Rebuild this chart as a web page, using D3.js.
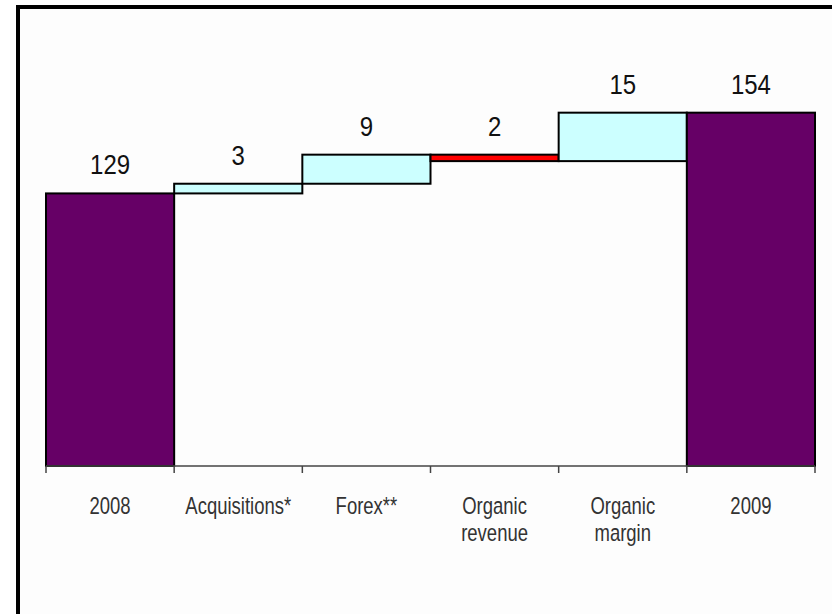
<!DOCTYPE html>
<html>
<head>
<meta charset="utf-8">
<script src="https://cdn.jsdelivr.net/npm/d3@7"></script>
<style>
  html, body { margin: 0; padding: 0; background: #ffffff; }
  svg { display: block; }
  text { font-family: "Liberation Sans", Arial, sans-serif; }
</style>
</head>
<body>
<svg id="chart" width="832" height="614"></svg>
<script>
// Bridge from 2008 to 2009: opening total, the movements, closing total
const categories = ["2008", "Acquisitions*", "Forex**", "Organic revenue", "Organic margin", "2009"];
const values = [129, 3, 9, -2, 15, 154];
const kinds = ["total", "step", "step", "step", "step", "total"];
const valueLabels = ["129", "3", "9", "2", "15", "154"];

const colors = { total: "#660066", up: "#ccffff", down: "#ff0000" };

const svg = d3.select("#chart");
const W = 832, H = 614;

svg.append("rect").attr("x", 0).attr("y", 0).attr("width", W).attr("height", H).attr("fill", "#ffffff");

// Frame (runs off the right and bottom edges)
svg.append("rect")
  .attr("x", 18).attr("y", 7)
  .attr("width", 900).attr("height", 800)
  .attr("fill", "#fdfdfd")
  .attr("stroke", "#000").attr("stroke-width", 4);

const x = d3.scaleBand().domain(categories).range([46, 815]).padding(0);
const y = d3.scaleLinear().domain([44.6, 170]).range([466, 61]);

// Build the floating segments from the running total
let running = 0;
const segs = categories.map((c, i) => {
  let lo, hi, fill;
  if (kinds[i] === "total") {
    running = values[i];
    lo = y.domain()[0]; hi = values[i]; fill = colors.total;
  } else {
    const start = running;
    running += values[i];
    lo = Math.min(start, running); hi = Math.max(start, running);
    fill = values[i] >= 0 ? colors.up : colors.down;
  }
  return { c, lo, hi, fill, label: valueLabels[i] };
});

const g = svg.append("g");

g.selectAll("rect.bar")
  .data(segs)
  .join("rect")
  .attr("class", "bar")
  .attr("x", d => x(d.c))
  .attr("width", x.bandwidth())
  .attr("y", d => y(d.hi))
  .attr("height", d => y(d.lo) - y(d.hi))
  .attr("fill", d => d.fill)
  .attr("stroke", "#000")
  .attr("stroke-width", 2);

// Category axis with ticks on the band boundaries
const axisY = y(y.domain()[0]);
g.append("line")
  .attr("x1", x.range()[0]).attr("x2", x.range()[1])
  .attr("y1", axisY).attr("y2", axisY)
  .attr("stroke", "#444").attr("stroke-width", 1.5);

const bounds = categories.map(c => x(c)).concat([x.range()[1]]);
g.selectAll("line.tick")
  .data(bounds)
  .join("line")
  .attr("class", "tick")
  .attr("x1", d => d).attr("x2", d => d)
  .attr("y1", axisY).attr("y2", axisY + 7)
  .attr("stroke", "#444").attr("stroke-width", 1.5);

// Category labels (two lines where the name has a space)
const cat = g.selectAll("g.cat")
  .data(categories)
  .join("g")
  .attr("class", "cat")
  .attr("transform", d => `translate(${x(d) + x.bandwidth() / 2},${axisY + 48}) scale(1,1.28)`);

cat.each(function (d) {
  const words = d.split(" ");
  const t = d3.select(this).append("text")
    .attr("text-anchor", "middle")
    .attr("font-size", 18.5)
    .attr("fill", "#333");
  words.forEach((w, i) => {
    t.append("tspan").attr("x", 0).attr("y", i * 21).text(w);
  });
});

// Value labels above each segment
g.selectAll("g.val")
  .data(segs)
  .join("g")
  .attr("class", "val")
  .attr("transform", d => `translate(${x(d.c) + x.bandwidth() / 2},${y(d.hi) - 19}) scale(1,1.12)`)
  .append("text")
  .attr("text-anchor", "middle")
  .attr("font-size", 24)
  .attr("fill", "#111")
  .text(d => d.label);
</script>
</body>
</html>
